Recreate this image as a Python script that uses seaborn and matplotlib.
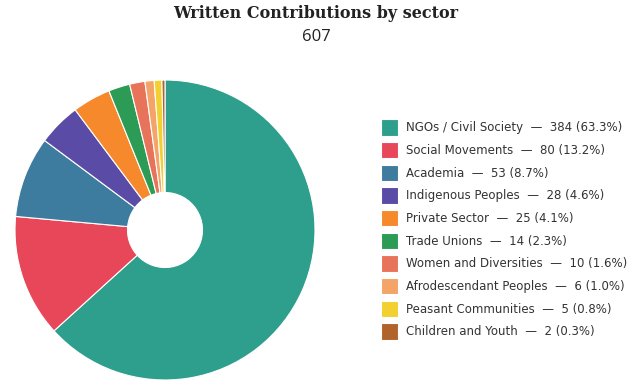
import matplotlib
matplotlib.use("Agg")
import matplotlib.pyplot as plt
import seaborn as sns

categories = ["NGOs / Civil Society", "Social Movements", "Academia", "Indigenous Peoples",
              "Private Sector", "Trade Unions", "Women and Diversities", "Afrodescendant Peoples",
              "Peasant Communities", "Children and Youth"]
counts = [384, 80, 53, 28, 25, 14, 10, 6, 5, 2]
hex_colors = ["#2E9F8D", "#E8475A", "#3D7B9F", "#5A4BA6", "#F5892B", "#2C9B55",
              "#E8735B", "#F4A468", "#F1D02F", "#B0632A"]
title = "Written Contributions by sector"

sns.set_theme(style="white")
plt.rcParams['font.family'] = ['DejaVu Sans']
palette = sns.color_palette(hex_colors)

total = sum(counts)
labels = [f"{c}  —  {v} ({v / total * 100:.1f}%)" for c, v in zip(categories, counts)]

fig = plt.figure(figsize=(6.36, 3.82), dpi=100)
W, H = 636, 382
cx, cy, r = 165, 230, 150
ax = fig.add_axes([(cx - r) / W, (H - cy - r) / H, 2 * r / W, 2 * r / H])
wedges, _ = ax.pie(counts, colors=palette, startangle=90, counterclock=False,
                   wedgeprops=dict(width=1 - 0.25, edgecolor="white", linewidth=0.8),
                   radius=1)
ax.set_xlim(-1, 1)
ax.set_ylim(-1, 1)
ax.set_aspect("equal")
ax.axis("off")

fig.text(316 / W, 1 - 14 / H, title, ha="center", va="center",
         fontsize=11.5, fontweight="bold", family="DejaVu Serif", color="#222222")
fig.text(316 / W, 1 - 37 / H, str(total), ha="center", va="center",
         fontsize=12, color="#222222", family="Open Sans")

leg = fig.legend(wedges, labels, loc="upper left", bbox_to_anchor=(381 / W, 1 - 119.5 / H),
                 frameon=False, fontsize=8.5, handlelength=1.45, handleheight=1.75,
                 labelspacing=0.535, handletextpad=0.65, borderaxespad=0, borderpad=0)
for t in leg.get_texts():
    t.set_color("#333333")

fig.savefig("out.png", dpi=100)
